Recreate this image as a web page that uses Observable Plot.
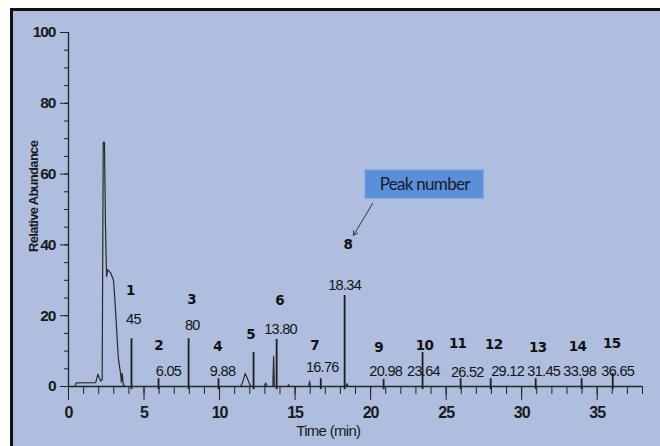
<!DOCTYPE html>
<html>
<head>
<meta charset="utf-8">
<script src="https://cdn.jsdelivr.net/npm/d3@7"></script>
<script src="https://cdn.jsdelivr.net/npm/@observablehq/plot@0.6"></script>
<style>
  html, body { margin: 0; padding: 0; background: #ffffff; }
  #wrap { position: relative; width: 660px; height: 446px; overflow: hidden; }
  #panel { position: absolute; left: 10px; top: 8px; right: 0; bottom: 0;
           background: #afbedf; border-top: 3px solid #111; border-left: 3px solid #111; }
  #chart { position: absolute; left: 0; top: 0; }
  #chart svg text { letter-spacing: -0.7px; }
  #chart svg g[aria-label="peak-number"] text { letter-spacing: 0.3px; }
  #chart svg g[aria-label="callout-text"] text { letter-spacing: 0; }
  #chart svg g[aria-label="y-title"] text { letter-spacing: -0.3px; }
  #chart svg g[aria-label="y-axis tick label"] text,
  #chart svg g[aria-label="x-axis tick label"] text { letter-spacing: -1px; }
</style>
</head>
<body>
<div id="wrap"><div id="panel"></div><div id="chart"></div></div>
<script>
// ---- data ----
const peakNo     = ["1","2","3","4","5","6","7","8","9","10","11","12","13","14","15"];
const peakTime   = [4.17, 5.96, 7.95, 9.93, 12.25, 13.78, 16.7, 18.28, 20.86, 23.44, 25.96, 27.95, 30.93, 33.97, 36.03];
const peakHeight = [13.5, 2.2, 13.5, 2.2, 9.6, 13.3, 2.2, 25.7, 2.0, 9.6, 2.2, 2.2, 2.2, 2.2, 3.7];
const rtLabel    = ["45","6.05","80","9.88","","13.80","16.76","18.34","20.98","23.64","26.52","29.12","31.45","33.98","36.65"];
// label anchor points in data units (time, abundance)
const numX = [4.1, 5.96, 8.15, 9.87, 12.05, 13.97, 16.3, 18.5, 20.53, 23.57, 25.76, 28.15, 31.06, 33.7, 35.96];
const numY = [27.1, 11.6, 24.6, 11.3, 14.7, 24.3, 11.6, 40.0, 11.0, 11.6, 12.1, 11.9, 11.0, 11.3, 12.1];
const rtX  = [4.3, 6.62, 8.2, 10.2, null, 14.04, 16.8, 18.28, 21.0, 23.5, 26.4, 29.07, 31.46, 33.84, 36.36];
const rtY  = [18.9, 4.2, 17.2, 4.2, null, 16.1, 5.4, 28.5, 4.2, 4.2, 4.0, 4.2, 4.2, 4.2, 4.2];

// chromatogram trace (solvent front and minor features)
const traceTime = [0.45, 0.5, 1.8, 1.95, 2.05, 2.15, 2.23, 2.3, 2.38, 2.45, 2.52, 2.6, 2.8, 2.98, 3.08, 3.2, 3.3, 3.4, 3.45, 3.5, 3.55, 3.64, 3.8,
                   11.4, 11.55, 11.7, 11.85, 12.0, 12.1,
                   12.95, 13.05, 13.15, 13.53, 13.58, 13.63, 14.5, 14.57, 14.65, 15.9, 15.96, 16.02, 18.38, 18.44, 18.5, 38];
const traceAbund = [0.3, 1.0, 1.1, 3.5, 2.3, 1.5, 2.0, 69.0, 69.0, 45.0, 31.0, 33.0, 32.0, 30.0, 24.0, 15.0, 8.0, 5.0, 3.7, 1.2, 3.7, 0.3, 0,
                    0, 1.5, 3.7, 2.2, 0.6, 0,
                    0, 1.0, 0, 0, 8.5, 0, 0, 0.5, 0, 0, 1.5, 0, 0, 0.8, 0, 0];

const xMajor = [0, 5, 10, 15, 20, 25, 30, 35];
const xMinor = d3.range(0, 39, 1);
const yMajor = [0, 20, 40, 60, 80, 100];
const yMinor = d3.range(0, 101, 5);
const xTitle = "Time (min)";
const yTitle = "Relative Abundance";
const calloutText = "Peak number";

// ---- tables ----
const trace = traceTime.map((t, i) => ({t, a: traceAbund[i]}));
const peaks = peakNo.map((n, i) => ({
  n, t: peakTime[i], h: peakHeight[i], rt: rtLabel[i],
  nx: numX[i], ny: numY[i], rx: rtX[i], ry: rtY[i]
}));
const callout = [{x1: 19.67, x2: 27.48, y1: 53.1, y2: 61.0, tx: 23.58, ty: 57.0, ax1: 20.13, ay1: 51.7, ax2: 18.87, ay2: 42.7}];

const sans = "'Liberation Sans', Arial, sans-serif";
const ink = "#222";

const chart = Plot.plot({
  width: 660,
  height: 446,
  marginLeft: 68,
  marginRight: 18,
  marginTop: 32,
  marginBottom: 60,
  x: {domain: [0, 38]},
  y: {domain: [0, 100]},
  style: {background: "transparent", fontFamily: sans, color: ink, overflow: "visible"},
  marks: [
    // axes
    Plot.axisY(yMinor, {tickSize: 4, tickFormat: () => "", label: null, stroke: ink}),
    Plot.axisY(yMajor, {tickSize: 8, tickPadding: 5, fontSize: 15.5, fontWeight: "bold", label: null, stroke: ink, fill: "#1a1a1a"}),
    Plot.axisX(xMinor, {tickSize: 8, tickFormat: () => "", label: null, stroke: ink}),
    Plot.axisX(xMajor, {tickSize: 14, tickPadding: 6, fontSize: 16, fontWeight: "bold", label: null, stroke: ink, fill: "#1a1a1a"}),
    Plot.ruleX([0], {y1: 0, y2: 100, stroke: ink, strokeWidth: 1.3}),
    Plot.ruleY([0], {x1: 0, x2: 38, stroke: ink, strokeWidth: 1.6}),
    // trace
    Plot.line(trace, {x: "t", y: "a", stroke: "#2a2a2a", strokeWidth: 1.2}),
    // numbered peaks
    Plot.ruleX(peaks, {x: "t", y1: -0.9, y2: "h", stroke: "#1e1e1e", strokeWidth: 1.8}),
    // peak number labels
    Plot.text(peaks, {x: "nx", y: "ny", text: "n", fontFamily: "'DejaVu Sans', Verdana, sans-serif",
      fontWeight: "bold", fontSize: 13.5, fill: "#111", ariaLabel: "peak-number"}),
    // retention time labels
    Plot.text(peaks.filter(d => d.rt), {x: "rx", y: "ry", text: "rt", fontSize: 14.5, fill: "#141414"}),
    // axis titles
    Plot.text([xTitle], {x: () => 17.2, frameAnchor: "bottom", dy: 49, fontSize: 15, fill: "#1a1a1a"}),
    Plot.text([yTitle], {y: () => 53.7, frameAnchor: "left", textAnchor: "middle", dx: -35, rotate: -90,
      fontSize: 13, fontWeight: "bold", fill: "#1a1a1a", ariaLabel: "y-title"}),
    // callout
    Plot.rect(callout, {x1: "x1", x2: "x2", y1: "y1", y2: "y2", fill: "#5b8fd9", stroke: "#6c9ade", strokeWidth: 1}),
    Plot.text(callout, {x: "tx", y: "ty", text: () => calloutText, fontFamily: "Lato, 'Open Sans', sans-serif",
      fontSize: 17, fill: "#161a2c", ariaLabel: "callout-text"}),
    Plot.arrow(callout, {x1: "ax1", y1: "ay1", x2: "ax2", y2: "ay2", stroke: "#333", strokeWidth: 1, headLength: 7})
  ]
});
document.getElementById("chart").appendChild(chart);
</script>
</body>
</html>
